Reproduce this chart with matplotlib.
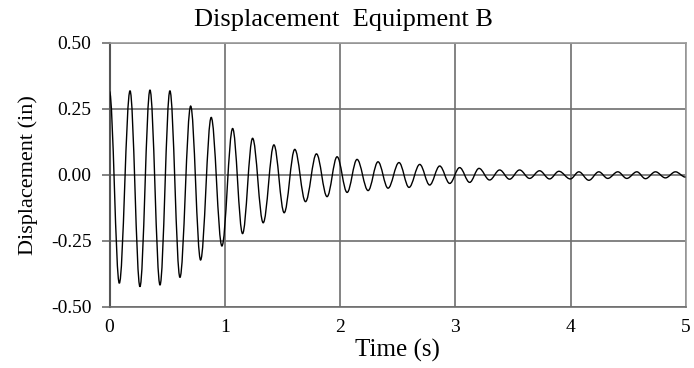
import matplotlib
matplotlib.use("Agg")
import matplotlib.pyplot as plt
from matplotlib.path import Path
from matplotlib.patches import PathPatch

# Extrema (peaks and troughs)
time_s = [0.000, 0.085, 0.178, 0.264, 0.351, 0.438, 0.524, 0.611, 0.704, 0.790,
          0.882, 0.975, 1.068, 1.154, 1.241, 1.333, 1.426, 1.515, 1.607, 1.700,
          1.795, 1.887, 1.974, 2.061, 2.147, 2.243, 2.329, 2.416, 2.511, 2.598,
          2.691, 2.777, 2.864, 2.951, 3.037, 3.124, 3.205, 3.297, 3.384, 3.470,
          3.557, 3.644, 3.730, 3.817, 3.898, 3.997, 4.071, 4.158, 4.244, 4.322,
          4.409, 4.487, 4.574, 4.649, 4.736, 4.822, 4.909, 4.996]
displacement_in = [0.316, -0.410, 0.319, -0.423, 0.322, -0.417, 0.319, -0.388, 0.261, -0.322,
                   0.218, -0.269, 0.176, -0.222, 0.139, -0.181, 0.114, -0.143, 0.097, -0.101,
                   0.080, -0.082, 0.069, -0.066, 0.059, -0.059, 0.050, -0.050, 0.047, -0.047,
                   0.040, -0.038, 0.034, -0.032, 0.028, -0.028, 0.025, -0.019, 0.019, -0.016,
                   0.019, -0.013, 0.016, -0.015, 0.014, -0.015, 0.012, -0.020, 0.012, -0.013,
                   0.012, -0.013, 0.012, -0.014, 0.012, -0.011, 0.012, -0.008]

x_ticks = [0, 1, 2, 3, 4, 5]
y_ticks = [-0.50, -0.25, 0.00, 0.25, 0.50]
y_tick_labels = ["-0.50", "-0.25", "0.00", "0.25", "0.50"]
title = "Displacement  Equipment B"
x_label = "Time (s)"
y_label = "Displacement (in)"

plt.rcParams['font.family'] = ['Liberation Serif', 'DejaVu Serif']

fig = plt.figure(figsize=(6.94, 3.68), dpi=100)
ax = fig.add_axes([0.1578, 0.1658, 0.8306, 0.7174])

# Smooth curve through the extrema: cubic Bezier segments with flat tangents at each extremum
verts = [(time_s[0], displacement_in[0])]
codes = [Path.MOVETO]
k = 0.364
for i in range(1, len(time_s)):
    t0, y0 = time_s[i - 1], displacement_in[i - 1]
    t1, y1 = time_s[i], displacement_in[i]
    dt = t1 - t0
    verts += [(t0 + k * dt, y0), (t1 - k * dt, y1), (t1, y1)]
    codes += [Path.CURVE4, Path.CURVE4, Path.CURVE4]
patch = PathPatch(Path(verts, codes), facecolor='none', edgecolor='black', lw=1.0,
                  zorder=3, transform=ax.transData)
ax.add_patch(patch)

ax.set_xlim(0, 5)
ax.set_ylim(-0.5, 0.5)
ax.set_xticks(x_ticks)
ax.set_yticks(y_ticks)
ax.set_yticklabels(y_tick_labels)
ax.grid(True, color='#6e6e6e', lw=1.2)
ax.set_axisbelow(True)

ax.tick_params(axis='x', length=0, pad=9, labelsize=14)
ax.tick_params(axis='y', length=6, width=1.2, color='#6e6e6e', pad=7, labelsize=14, direction='out')

for side in ['top', 'right']:
    ax.spines[side].set_color('#9a9a9a')
    ax.spines[side].set_linewidth(1.2)
ax.spines['left'].set_color('#555555')
ax.spines['left'].set_linewidth(1.5)
ax.spines['bottom'].set_color('#6e6e6e')
ax.spines['bottom'].set_linewidth(1.2)

fig.text(0.4950, 0.946, title, fontsize=19, ha='center', va='center')
ax.set_xlabel(x_label, fontsize=18, labelpad=2)
ax.set_ylabel(y_label, fontsize=16, labelpad=9)

fig.savefig("out.png", dpi=100)
